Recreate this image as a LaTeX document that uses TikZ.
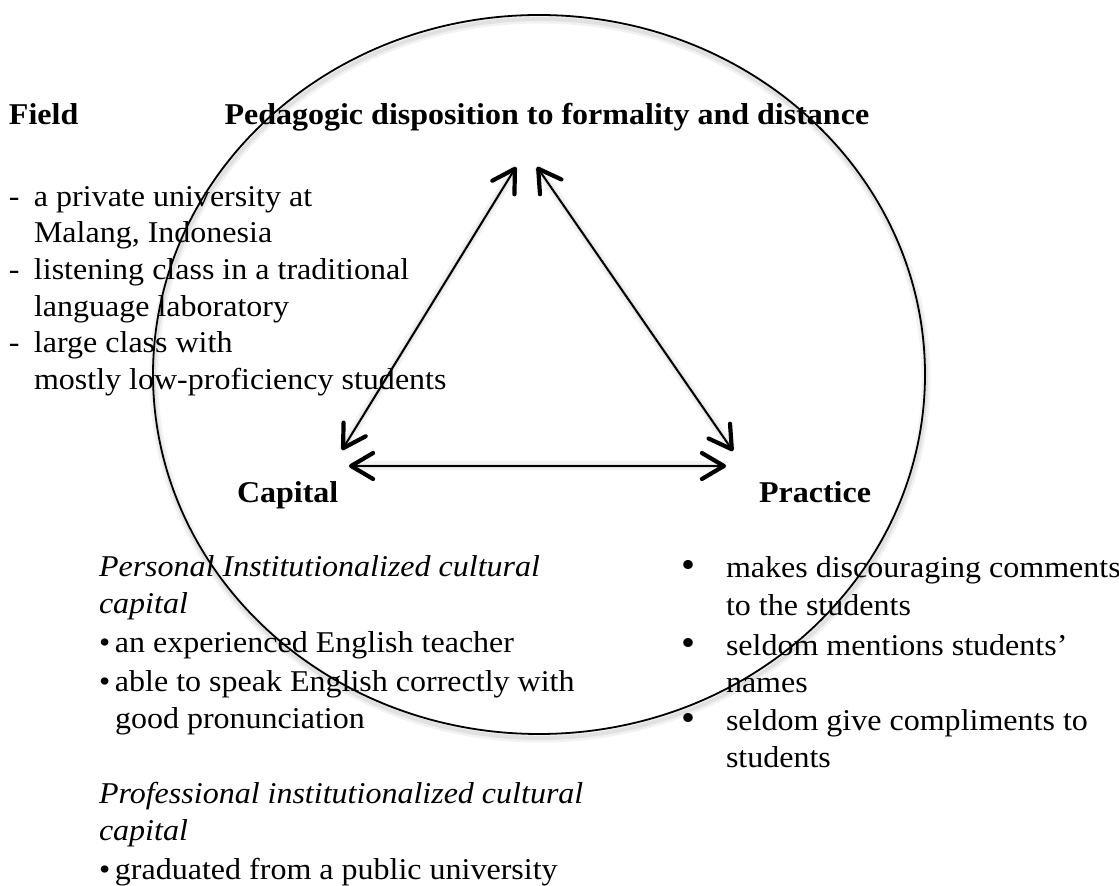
\documentclass[tikz,border=0pt]{standalone}
\usepackage{fontspec}
\setmainfont{Liberation Serif}[FakeStretch=1.06]
\usetikzlibrary{arrows.meta}

\tikzset{
  txt/.style={anchor=base west, inner sep=0pt, outer sep=0pt,
    font=\fontsize{15.1}{18}\selectfont},
  head/.style={txt, font=\fontsize{15.1}{18}\selectfont\bfseries},
  itl/.style={txt, font=\fontsize{15.1}{18}\selectfont\itshape},
  tip/.style={},
  barb/.style={line width=1pt,
    {Straight Barb[length=11pt,width=13pt,line width=2.1pt,round]}-{Straight Barb[length=11pt,width=13pt,line width=2.1pt,round]}},
  shade wide/.style={draw=black, opacity=0.05, line width=4.5pt},
  shade thin/.style={draw=black, opacity=0.07, line width=2pt},
  ring/.style={line width=0.9pt},
}
\newcommand{\dashitem}{\makebox[12.5pt][l]{-}}
\newcommand{\smallbul}{\makebox[8pt][l]{\textbullet}}
\newcommand{\bigbul}{\makebox[22.5pt][l]{\scalebox{1.25}{\textbullet}}}

\begin{document}
\begin{tikzpicture}[x=0.5pt, y=-0.5pt]
  \useasboundingbox (0,0) rectangle (1119,886);

  % arrow end points of the triangle
  \coordinate (apexL) at (516,167);
  \coordinate (apexR) at (537,167);
  \coordinate (capUp) at (342,450);
  \coordinate (pracUp) at (733,451);
  \coordinate (capR) at (349,466);
  \coordinate (pracL) at (726,466);

  % soft shadows under the ring and the arrows
  \begin{scope}[shift={(1,4)}]
    \draw[shade wide] (539,374.5) ellipse [x radius=193pt, y radius=179.75pt];
    \draw[shade thin] (539,374.5) ellipse [x radius=193pt, y radius=179.75pt];
    \foreach \a/\b in {apexL/capUp, apexR/pracUp, capR/pracL} {
      \draw[shade wide] (\a) -- (\b);
      \draw[shade thin] (\a) -- (\b);
    }
  \end{scope}

  % the ring
  \draw[ring] (539,374.5) ellipse [x radius=193pt, y radius=179.75pt];

  % two-headed arrows of the triangle
  \draw[barb] (apexL) -- (capUp);
  \draw[barb] (apexR) -- (pracUp);
  \draw[barb] (capR) -- (pracL);

  % headings
  \node[head] (field) at (9,125) {Field};
  \node[head] (disp) at (224.5,125) {Pedagogic disposition to formality and distance};
  \node[head] (capital) at (237,503) {Capital};
  \node[head] (practice) at (759,503) {Practice};

  % field description
  \node[txt] (f1) at (9,207) {\dashitem a private university at};
  \node[txt] (f2) at (34,243) {Malang, Indonesia};
  \node[txt] (f3) at (9,280) {\dashitem listening class in a traditional};
  \node[txt] (f4) at (34,317) {language laboratory};
  \node[txt] (f5) at (9,353) {\dashitem large class with};
  \node[txt] (f6) at (34,390) {mostly low-proficiency students};

  % capital description
  \node[itl] (c1) at (99,577) {Personal Institutionalized cultural};
  \node[itl] (c2) at (99,614) {capital};
  \node[txt] (c3) at (99,653) {\smallbul an experienced English teacher};
  \node[txt] (c4) at (99,692) {\smallbul able to speak English correctly with};
  \node[txt] (c5) at (115,729) {good pronunciation};
  \node[itl] (c6) at (99,804) {Professional institutionalized cultural};
  \node[itl] (c7) at (99,841) {capital};
  \node[txt] (c8) at (99,879) {\smallbul graduated from a public university};

  % practice description
  \node[txt] (p1) at (681,578) {\bigbul makes discouraging comments};
  \node[txt] (p2) at (726,616) {to the students};
  \node[txt] (p3) at (681,656) {\bigbul seldom mentions students’};
  \node[txt] (p4) at (726,693) {names};
  \node[txt] (p5) at (681,731) {\bigbul seldom give compliments to};
  \node[txt] (p6) at (726,768) {students};
\end{tikzpicture}
\end{document}
